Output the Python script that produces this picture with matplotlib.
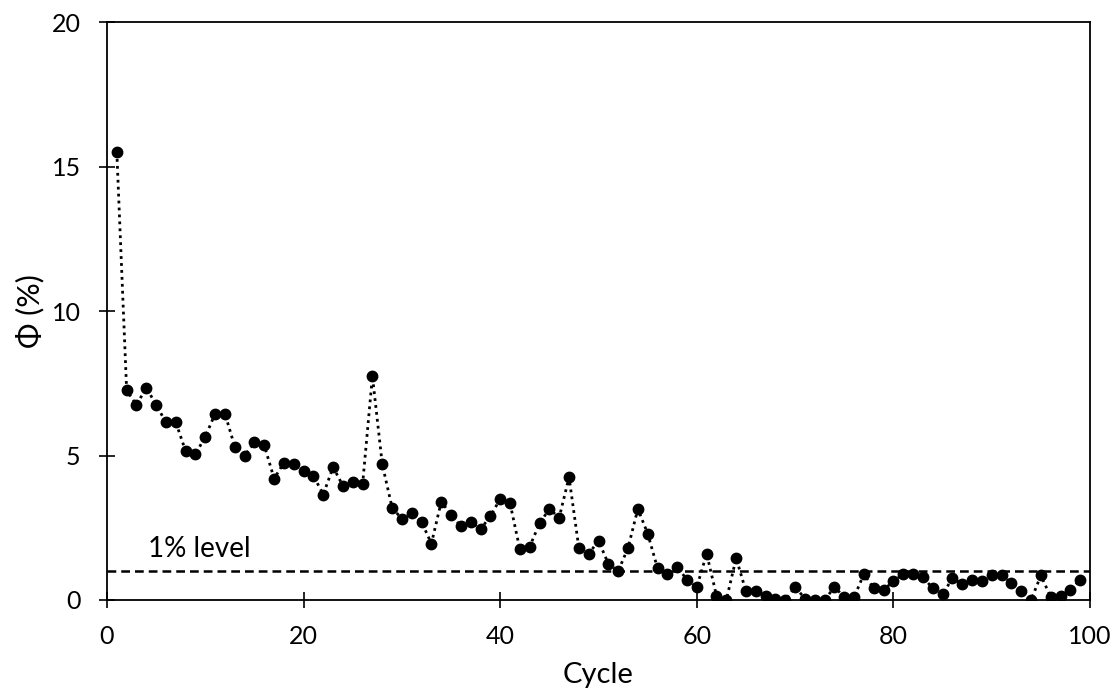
import matplotlib
matplotlib.use("Agg")
import matplotlib.pyplot as plt

cycles = list(range(1, 100))
phi = [15.5, 7.25, 6.75, 7.35, 6.75, 6.15, 6.15, 5.15, 5.05, 5.65,
       6.45, 6.45, 5.3, 5.0, 5.45, 5.35, 4.2, 4.75, 4.7, 4.45,
       4.3, 3.65, 4.6, 3.95, 4.1, 4.0, 7.75, 4.7, 3.2, 2.8,
       3.0, 2.7, 1.95, 3.4, 2.95, 2.55, 2.7, 2.45, 2.9, 3.5,
       3.35, 1.75, 1.85, 2.65, 3.15, 2.85, 4.25, 1.8, 1.6, 2.05,
       1.25, 1.0, 1.8, 3.15, 2.3, 1.1, 0.9, 1.15, 0.7, 0.45,
       1.6, 0.15, 0.0, 1.45, 0.3, 0.3, 0.15, 0.05, 0.0, 0.45,
       0.05, 0.0, 0.0, 0.45, 0.1, 0.1, 0.9, 0.4, 0.35, 0.65,
       0.9, 0.9, 0.8, 0.4, 0.2, 0.75, 0.55, 0.7, 0.65, 0.85,
       0.85, 0.6, 0.3, 0.0, 0.85, 0.1, 0.15, 0.35, 0.7]
level = 1.0
level_label = "1% level"
x_ticks = [0, 20, 40, 60, 80, 100]
y_ticks = [0, 5, 10, 15, 20]

plt.rcParams['font.family'] = ['Lato', 'DejaVu Sans']
fig = plt.figure(figsize=(11.18, 6.95), dpi=100)
ax = fig.add_axes([0.0957, 0.1367, 0.8793, 0.8316])

ax.plot(cycles, phi, color='black', linestyle=(0, (1, 1.5)), linewidth=2.0,
        marker='o', markersize=7.5, markerfacecolor='black', markeredgecolor='black')
ax.axhline(level, color='black', linestyle=(0, (3.5, 2)), linewidth=1.8)
ax.text(4.2, 1.78, level_label, fontsize=20, va='center', ha='left')

ax.set_xlim(0, 100)
ax.set_ylim(0, 20)
ax.set_xticks(x_ticks)
ax.set_yticks(y_ticks)
ax.tick_params(direction='inout', length=12, width=1.2, labelsize=18)
ax.tick_params(axis='x', top=False, pad=12)
ax.tick_params(axis='y', right=False, pad=13)
for s in ax.spines.values():
    s.set_linewidth(1.3)
ax.set_xlabel("Cycle", fontsize=21, labelpad=10)
ax.set_ylabel("Φ (%)", fontsize=22, labelpad=5)

fig.savefig("out.png", dpi=100)
